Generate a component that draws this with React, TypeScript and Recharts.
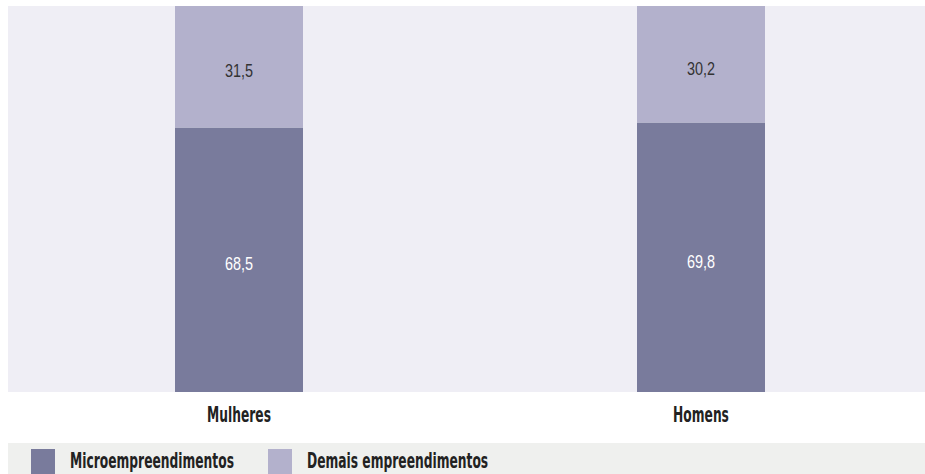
import { BarChart, Bar, XAxis, YAxis, CartesianGrid, Legend, LabelList } from "recharts";

const categories = ["Mulheres", "Homens"];
const micro = [68.5, 69.8];
const demais = [31.5, 30.2];

const seriesNames = ["Microempreendimentos", "Demais empreendimentos"];
const colors = ["#797b9c", "#b3b1cc"];

const data = categories.map((name, i) => ({ name, micro: micro[i], demais: demais[i] }));

const condensed = "'DejaVu Sans Condensed', 'DejaVu Sans', sans-serif";
const plain = "'Liberation Sans', Arial, sans-serif";

const fmt = (v: number) => String(v).replace(".", ",");

function CategoryTick({ x, y, payload }: any) {
  return (
    <g transform={`translate(${x},${y}) scale(0.62,1)`}>
      <text
        textAnchor="middle"
        dy={22}
        fill="#222"
        fontFamily={condensed}
        fontWeight="bold"
        fontSize={22}
      >
        {payload.value}
      </text>
    </g>
  );
}

function makeLabel(color: string) {
  return function ValueLabel({ x, y, width, height, value }: any) {
    const cx = Number(x) + Number(width) / 2;
    const cy = Number(y) + Number(height) / 2;
    return (
      <g transform={`translate(${cx},${cy}) scale(0.8,1)`}>
        <text
          textAnchor="middle"
          dominantBaseline="central"
          dy={4}
          fill={color}
          fontFamily={plain}
          fontSize={18}
        >
          {fmt(value)}
        </text>
      </g>
    );
  };
}

const MicroLabel = makeLabel("#fff");
const DemaisLabel = makeLabel("#333");

function LegendStrip() {
  return (
    <div
      style={{
        display: "flex",
        alignItems: "center",
        height: 31,
        background: "#eff0ee",
        paddingLeft: 23,
        boxSizing: "border-box",
      }}
    >
      {seriesNames.map((s, i) => (
        <div key={s} style={{ display: "flex", alignItems: "center", width: 237, height: 31 }}>
          <span
            style={{ width: 24, height: 25, marginTop: 5, background: colors[i], flexShrink: 0 }}
          />
          <span
            style={{
              marginLeft: 15,
              marginTop: 3,
              display: "inline-block",
              transform: "scaleX(0.62)",
              transformOrigin: "left center",
              whiteSpace: "nowrap",
              fontFamily: condensed,
              fontWeight: "bold",
              fontSize: 22,
              color: "#222",
            }}
          >
            {s}
          </span>
        </div>
      ))}
    </div>
  );
}

export default function App() {
  return (
    <div
      style={{
        position: "absolute",
        top: 0,
        left: 0,
        width: 925,
        height: 474,
        overflow: "hidden",
        background: "#fff",
      }}
    >
      <BarChart
        width={932}
        height={474}
        data={data}
        margin={{ top: 6, right: 0, left: 8, bottom: 0 }}
      >
        <CartesianGrid fill="#efeef5" stroke="none" horizontal={false} vertical={false} />
        <XAxis
          dataKey="name"
          axisLine={false}
          tickLine={false}
          height={51}
          interval={0}
          tick={<CategoryTick />}
        />
        <YAxis hide domain={[0, 100]} />
        <Legend
          verticalAlign="bottom"
          height={31}
          wrapperStyle={{ left: 8, bottom: 0, width: 917 }}
          content={() => <LegendStrip />}
        />
        <Bar dataKey="micro" stackId="a" fill={colors[0]} barSize={128} isAnimationActive={false}>
          <LabelList dataKey="micro" content={<MicroLabel />} />
        </Bar>
        <Bar dataKey="demais" stackId="a" fill={colors[1]} barSize={128} isAnimationActive={false}>
          <LabelList dataKey="demais" content={<DemaisLabel />} />
        </Bar>
      </BarChart>
    </div>
  );
}
